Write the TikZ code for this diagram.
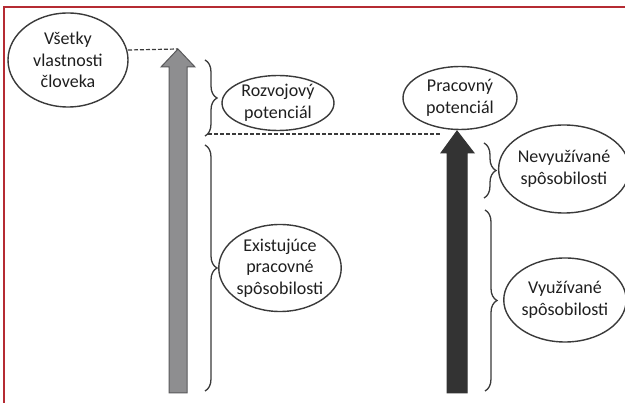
\documentclass[tikz,border=0pt]{standalone}
\usepackage{fontspec}
\setmainfont{Carlito}
\usetikzlibrary{shapes.geometric,decorations.pathreplacing}
\definecolor{framered}{HTML}{B52B33}
\definecolor{linegray}{HTML}{3A3A3A}
\definecolor{arrowgray}{HTML}{8E8E90}
\definecolor{arrowedge}{HTML}{5A5A5C}
\definecolor{arrowdark}{HTML}{333333}
\begin{document}
\begin{tikzpicture}[x=1pt,y=-1pt,
  bubble/.style={ellipse,draw=linegray,line width=1.4pt,inner sep=0pt,align=center,
    font=\fontsize{18}{21.5}\selectfont,text=black!88},
  bracket/.style={draw=linegray,line width=1.3pt,decorate,decoration={brace,amplitude=12pt}},
  guide/.style={draw=linegray,line width=1.2pt,dash pattern=on 4pt off 2pt},
  grayarrow/.style={fill=arrowgray,draw=arrowedge,line width=1pt},
  darkarrow/.style={fill=arrowdark,draw=arrowdark,line width=1pt}]
\useasboundingbox (0,0) rectangle (625,403);
\fill[white] (0,0) rectangle (625,403);
% frame
\draw[framered,line width=2.2pt] (4,403) -- (4,7) -- (625,7);
% arrows
\coordinate (gtip) at (178,49);
\coordinate (dtip) at (457,131);
\draw[grayarrow] (169,393) -- (169,67) -- (161,67) -- (gtip) -- (195,67) -- (187,67) -- (187,393) -- cycle;
\draw[darkarrow] (447,393) -- (447,153) -- (441,153) -- (dtip) -- (474,153) -- (467,153) -- (467,393) -- cycle;
% ellipses
\node[bubble,minimum width=120pt,minimum height=94pt] (all) at (68,60) {Všetky\\vlastnosti\\človeka};
\node[bubble,minimum width=112pt,minimum height=55pt] (dev) at (278,103) {Rozvojový\\potenciál};
\node[bubble,minimum width=114pt,minimum height=63pt] (work) at (460,98) {Pracovný\\potenciál};
\node[bubble,minimum width=112pt,minimum height=88pt] (unused) at (564,169) {Nevyužívané\\spôsobilosti};
\node[bubble,minimum width=122pt,minimum height=87pt] (exist) at (280,268) {Existujúce\\pracovné\\spôsobilosti};
\node[bubble,minimum width=114pt,minimum height=84pt] (used) at (565,300) {Využívané\\spôsobilosti};
% dashed guides
\coordinate (d1) at (128,50);
\coordinate (d2a) at (208,134);
\coordinate (d2b) at (440,134);
\draw[guide] (d1) -- (gtip);
\draw[guide] (d2a) -- (d2b);
% braces
\coordinate (b1t) at (205,60);
\coordinate (b1b) at (205,136);
\coordinate (b2t) at (205,145);
\coordinate (b2b) at (205,391);
\coordinate (b3t) at (484,143);
\coordinate (b3b) at (484,198);
\coordinate (b4t) at (485,210);
\coordinate (b4b) at (485,391);
\draw[bracket] (b1t) -- (b1b);
\draw[bracket] (b2t) -- (b2b);
\draw[bracket] (b3t) -- (b3b);
\draw[bracket] (b4t) -- (b4b);
\end{tikzpicture}
\end{document}
